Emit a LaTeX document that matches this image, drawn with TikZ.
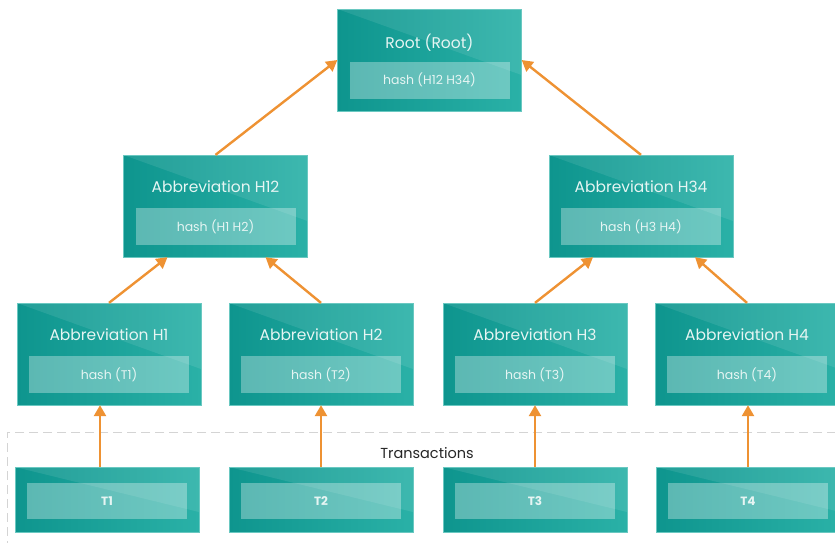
\documentclass[tikz,border=0pt]{standalone}
\usepackage{fontspec}
\setmainfont{Poppins}
\usepackage{tikz}
\usetikzlibrary{positioning}
\usetikzlibrary{arrows.meta}
\usepackage{xcolor}

\definecolor{tealdark}{HTML}{0E958E}
\definecolor{teallight}{HTML}{2AB1A7}
\definecolor{arroworange}{HTML}{EE9233}
\definecolor{framegray}{HTML}{D4D4D4}
\definecolor{labelwhite}{HTML}{E6F5F3}

\tikzset{
    hashnode/.style={rectangle, minimum width=184pt, minimum height=102pt,
        left color=tealdark, right color=teallight, draw=teallight!70!white, line width=0.3pt,
        path picture={\fill[white, opacity=0.09] (path picture bounding box.north west)
            -- (path picture bounding box.north east)
            -- ([yshift=36pt]path picture bounding box.south east) -- cycle;}},
    txnode/.style={hashnode, minimum height=65pt,
        path picture={\fill[white, opacity=0.09] (path picture bounding box.north west)
            -- (path picture bounding box.north east)
            -- ([yshift=20pt]path picture bounding box.south east) -- cycle;}},
    hashfield/.style={rectangle, minimum width=160pt, minimum height=37pt,
        fill=white, fill opacity=0.32, text opacity=1, text=labelwhite,
        font=\fontsize{12.5}{14}\selectfont},
    titletext/.style={text=labelwhite, font=\fontsize{15.5}{18}\selectfont},
    txlabel/.style={hashfield, minimum height=36pt, font=\fontsize{12}{14}\selectfont\bfseries},
    link/.style={draw=arroworange, line width=2.4pt, -{Triangle[length=11pt, width=12pt]}}
}

\begin{document}
\begin{tikzpicture}[x=1pt, y=-1pt]
    \useasboundingbox (0,0) rectangle (835,542);
    \clip (0,0) rectangle (835,542);

    % Transactions frame
    \draw[framegray, dashed, dash pattern=on 9pt off 5pt, line width=0.8pt] (850,432) -| (7,560);
    \node[text=black!85, font=\fontsize{14.5}{17}\selectfont] (txtitle) at (427,453) {Transactions};

    % Level 0 (root)
    \node[hashnode] (root) at (429.5,60) {};
    \node[titletext, yshift=17pt] (root-title) at (root) {Root (Root)};
    \node[hashfield, yshift=-20pt] (root-hash) at (root) {hash (H12 H34)};

    % Level 1
    \node[hashnode] (h12) at (215.5,206) {};
    \node[titletext, yshift=19pt] (h12-title) at (h12) {Abbreviation H12};
    \node[hashfield, yshift=-20.5pt] (h12-hash) at (h12) {hash (H1 H2)};
    \node[hashnode] (h34) at (641,206) {};
    \node[titletext, yshift=19pt] (h34-title) at (h34) {Abbreviation H34};
    \node[hashfield, yshift=-20.5pt] (h34-hash) at (h34) {hash (H3 H4)};

    % Level 2
    \foreach \i/\x in {1/109,2/321,3/535,4/747} {
        \node[hashnode] (h\i) at (\x,354) {};
        \node[titletext, yshift=19.5pt] (h\i-title) at (h\i) {Abbreviation H\i};
        \node[hashfield, yshift=-20.5pt] (h\i-hash) at (h\i) {hash (T\i)};
    }

    % Level 3 (leaves - transactions)
    \foreach \i/\x in {1/107,2/321,3/535,4/748} {
        \node[txnode] (t\i) at (\x,499.5) {};
        \node[txlabel, yshift=-1.5pt] (t\i-label) at (t\i) {T\i};
    }

    % Connections
    \draw[link] (h12.north) -- (root.west);
    \draw[link] (h34.north) -- (root.east);
    \draw[link] (h1.north) -- ([xshift=-48pt]h12.south);
    \draw[link] (h2.north) -- ([xshift=50pt]h12.south);
    \draw[link] (h3.north) -- ([xshift=-48pt]h34.south);
    \draw[link] (h4.north) -- ([xshift=54pt]h34.south);
    \draw[link] ([xshift=-7pt]t1.north) -- ([xshift=-7pt]t1.north |- h1.south);
    \foreach \i in {2,3,4} {
        \draw[link] (t\i.north) -- (t\i.north |- h\i.south);
    }
\end{tikzpicture}
\end{document}
